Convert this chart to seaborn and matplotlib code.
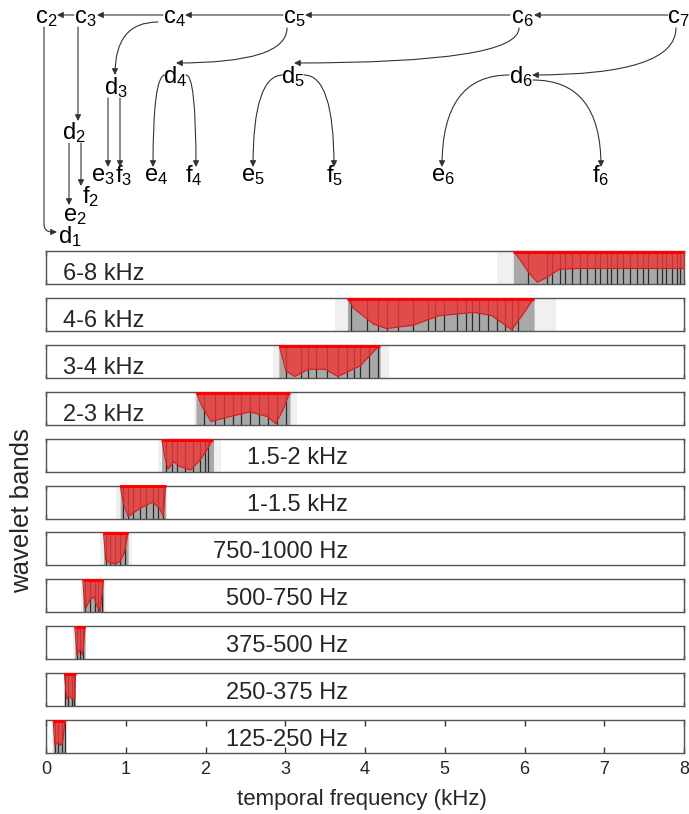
import matplotlib
matplotlib.use("Agg")
import matplotlib.pyplot as plt
import seaborn as sns
import pandas as pd

# ------------------------------------------------------------------
# data
# ------------------------------------------------------------------
band_labels = ['6-8 kHz', '4-6 kHz', '3-4 kHz', '2-3 kHz', '1.5-2 kHz', '1-1.5 kHz',
               '750-1000 Hz', '500-750 Hz', '375-500 Hz', '250-375 Hz', '125-250 Hz']

# lower edge of the red envelope (red fills from this edge up to the top), x in kHz
env_x = [
    [5.86, 5.94, 6.05, 6.16, 6.28, 6.44, 6.7, 8.0],
    [3.78, 3.85, 4.11, 4.27, 4.6, 4.93, 5.37, 5.59, 5.84, 5.98, 6.12],
    [2.92, 3.01, 3.12, 3.29, 3.5, 3.66, 3.94, 4.11, 4.19],
    [1.88, 1.96, 2.07, 2.3, 2.56, 2.78, 2.88, 2.97, 3.06],
    [1.45, 1.49, 1.53, 1.6, 1.68, 1.81, 1.93, 2.01, 2.1],
    [0.93, 0.97, 1.03, 1.18, 1.34, 1.43, 1.47, 1.5],
    [0.72, 0.75, 0.8, 0.87, 0.93, 0.98, 1.03],
    [0.46, 0.49, 0.55, 0.6, 0.64, 0.68, 0.72],
    [0.36, 0.39, 0.43, 0.46, 0.49],
    [0.23, 0.26, 0.29, 0.32, 0.36, 0.37],
    [0.09, 0.11, 0.15, 0.18, 0.21, 0.24],
]
env_y = [
    [1.0, 0.75, 0.35, 0.05, 0.2, 0.45, 0.47, 0.47],
    [1.0, 0.7, 0.2, 0.07, 0.17, 0.46, 0.56, 0.46, 0.03, 0.5, 1.0],
    [1.0, 0.2, 0.04, 0.26, 0.26, 0.04, 0.36, 0.8, 1.0],
    [1.0, 0.53, 0.1, 0.24, 0.39, 0.24, 0.03, 0.44, 1.0],
    [1.0, 0.44, 0.07, 0.3, 0.15, 0.05, 0.34, 0.63, 1.0],
    [1.0, 0.46, 0.06, 0.31, 0.5, 0.27, 0.06, 1.0],
    [1.0, 0.17, 0.08, 0.05, 0.12, 0.37, 1.0],
    [1.0, 0.08, 0.38, 0.47, 0.18, 0.03, 1.0],
    [1.0, 0.12, 0.31, 0.12, 1.0],
    [1.0, 0.22, 0.32, 0.22, 0.22, 1.0],
    [1.0, 0.23, 0.33, 0.23, 0.33, 1.0],
]

# faint grey spread around each band (kHz)
spread_lo = [5.65, 3.62, 2.85, 1.85, 1.40, 0.88, 0.68, 0.44, 0.34, 0.22, 0.08]
spread_hi = [8.00, 6.40, 4.30, 3.15, 2.20, 1.52, 1.08, 0.75, 0.50, 0.38, 0.26]

# dark vertical stripes (kHz)
dark_x = [
    [6.05, 6.28, 6.34, 6.44, 6.51, 6.59, 6.70, 6.78, 6.88, 6.95, 7.03, 7.09, 7.16,
     7.24, 7.32, 7.41, 7.49, 7.55, 7.66, 7.72, 7.78, 7.85, 7.91, 7.95],
    [3.83, 4.03, 4.16, 4.27, 4.41, 4.60, 4.79, 4.88, 4.99, 5.15, 5.27, 5.34, 5.43,
     5.54, 5.66, 5.76, 5.84, 5.92],
    [3.01, 3.20, 3.29, 3.39, 3.52, 3.66, 3.77, 3.86, 3.94, 4.05, 4.16],
    [1.98, 2.12, 2.23, 2.34, 2.45, 2.56, 2.67, 2.78, 2.90, 3.01],
    [1.51, 1.58, 1.64, 1.74, 1.84, 1.93, 1.99, 2.03],
    [0.97, 1.03, 1.09, 1.18, 1.26, 1.34, 1.41, 1.47],
    [0.75, 0.80, 0.87, 0.93, 0.99],
    [0.49, 0.55, 0.61, 0.65, 0.70],
    [0.39, 0.43, 0.46],
    [0.24, 0.28, 0.33, 0.35],
    [0.11, 0.15, 0.20, 0.24],
]

x_ticks = [0, 1, 2, 3, 4, 5, 6, 7, 8]

# decomposition tree nodes
tree_nodes = ['c2', 'c3', 'c4', 'c5', 'c6', 'c7', 'd1', 'd2', 'd3', 'd4', 'd5', 'd6',
              'e2', 'f2', 'e3', 'f3', 'e4', 'f4', 'e5', 'f5', 'e6', 'f6']

# ------------------------------------------------------------------
# layout (pixels of the 689x814 picture)
# ------------------------------------------------------------------
node_pos = {
    'c2': (46, 18), 'c3': (85, 18), 'c4': (174, 18), 'c5': (294, 18), 'c6': (522, 18),
    'c7': (678, 18), 'd1': (70, 237), 'd2': (74, 133), 'd3': (116, 88), 'd4': (175, 77),
    'd5': (293, 77), 'd6': (521, 77), 'e2': (75, 216), 'f2': (91, 197), 'e3': (103, 176),
    'f3': (124, 176), 'e4': (156, 176), 'f4': (194, 176), 'e5': (253, 176),
    'f5': (335, 176), 'e6': (443, 176), 'f6': (601, 176),
}
# (start, tip, connectionstyle)
tree_arrows = [
    ((668, 15), (534, 15), 'arc3'),
    ((510, 15), (305, 15), 'arc3'),
    ((283, 15), (185, 15), 'arc3'),
    ((163, 15), (97, 15), 'arc3'),
    ((74, 15), (57, 15), 'arc3'),
    ((44, 27), (57, 232), 'angle,angleA=90,angleB=0,rad=8'),
    ((78, 27), (78, 121), 'arc3'),
    ((158, 22), (115, 75), 'angle3,angleA=0,angleB=90'),
    ((287, 28), (176, 63), 'angle3,angleA=90,angleB=0'),
    ((519, 28), (294, 63), 'angle3,angleA=90,angleB=0'),
    ((676, 28), (532, 75), 'angle3,angleA=90,angleB=0'),
    ((69, 143), (69, 205), 'arc3'),
    ((81, 143), (81, 186), 'arc3'),
    ((108, 98), (108, 167), 'arc3'),
    ((120, 98), (120, 167), 'arc3'),
    ((165, 75), (153, 167), 'angle3,angleA=180,angleB=90'),
    ((186, 75), (196, 167), 'angle3,angleA=0,angleB=90'),
    ((283, 75), (253, 167), 'angle3,angleA=180,angleB=90'),
    ((304, 75), (334, 167), 'angle3,angleA=0,angleB=90'),
    ((509, 75), (442, 167), 'angle3,angleA=180,angleB=90'),
    ((533, 80), (601, 167), 'angle3,angleA=0,angleB=90'),
]

W, H = 689, 814
sns.set_style("white")
plt.rcParams['font.family'] = ['Liberation Sans', 'DejaVu Sans']
plt.rcParams['mathtext.default'] = 'regular'

fig = plt.figure(figsize=(W / 100, H / 100), dpi=100)

# ---- tree on top
tax = fig.add_axes([0, 1 - 245 / H, 1, 245 / H])
tax.set_xlim(0, W)
tax.set_ylim(245, 0)
tax.axis('off')
for name in tree_nodes:
    x, y = node_pos[name]
    tax.text(x, y, '$%s_%s$' % (name[0], name[1]), ha='center', va='center',
             fontsize=17, color='black')
for start, tip, cs in tree_arrows:
    tax.annotate('', xy=tip, xytext=start,
                 arrowprops=dict(arrowstyle='-|>', color='#333333', lw=0.8,
                                 mutation_scale=9, shrinkA=0, shrinkB=0,
                                 connectionstyle=cs))

# ---- band panels
left_px, right_px = 46, 684
panel_h = 33
red = '#dd3535'
for i, label in enumerate(band_labels):
    top = 251 + i * 46.9
    ax = fig.add_axes([left_px / W, 1 - (top + panel_h) / H,
                       (right_px - left_px) / W, panel_h / H])
    ax.set_xlim(0, 8)
    ax.set_ylim(0, 1)
    ax.set_yticks([])

    ax.axvspan(spread_lo[i], spread_hi[i], color='#f0f0f0', lw=0, zorder=1)
    ax.fill_between(env_x[i], 0, env_y[i], color='#a8a8a8', lw=0, zorder=2)
    ax.vlines(dark_x[i], 0, 1, color='#2a2a2a', lw=0.9, zorder=3)
    ax.fill_between(env_x[i], env_y[i], 1, color=red, alpha=0.88, lw=0, zorder=4)
    df = pd.DataFrame({'x': env_x[i], 'y': env_y[i]})
    sns.lineplot(data=df, x='x', y='y', ax=ax, color='#cc2020', lw=0.8, zorder=5)
    ax.plot([env_x[i][0], env_x[i][-1]], [0.97, 0.97], color='#ff0000', lw=2.2,
            solid_capstyle='butt', zorder=5)
    ax.set_xlabel('')
    ax.set_ylabel('')

    if i < 4:
        ax.text(0.21, 0.3, label, ha='left', va='center', fontsize=17, zorder=6)
    else:
        ax.text(3.79, 0.4, label, ha='right', va='center', fontsize=17, zorder=6)

    for s in ax.spines.values():
        s.set_color('#555555')
        s.set_linewidth(1)

    if i == len(band_labels) - 1:
        ax.set_xticks(x_ticks)
        ax.set_xticklabels([str(t) for t in x_ticks], fontsize=13)
        ax.tick_params(axis='x', direction='in', top=True, bottom=True, length=4,
                       width=1, color='#333333', pad=6)
    else:
        ax.set_xticks([0, 8])
        ax.set_xticklabels([])
        ax.tick_params(axis='x', direction='in', top=True, bottom=True, length=3,
                       width=1, color='#333333')

fig.text(22 / W, 1 - 511 / H, 'wavelet bands', rotation=90, ha='center', va='center',
         fontsize=18.5)
fig.text(362 / W, 1 - 800 / H, 'temporal frequency (kHz)', ha='center', va='center',
         fontsize=16)

fig.savefig('out.png', dpi=100)
